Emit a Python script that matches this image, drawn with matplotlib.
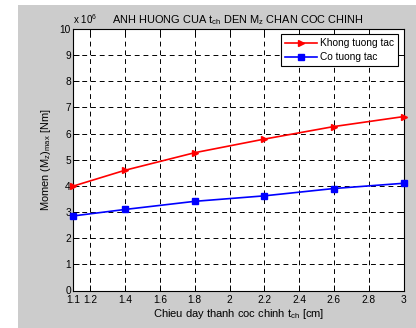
import matplotlib
matplotlib.use("Agg")
import matplotlib.pyplot as plt
from matplotlib.patches import Rectangle

# Data (values in units of 1e6 Nm)
t_ch = [1.1, 1.4, 1.8, 2.2, 2.6, 3.0]
khong_tuong_tac = [3.99, 4.60, 5.27, 5.79, 6.27, 6.65]
co_tuong_tac = [2.85, 3.10, 3.41, 3.62, 3.90, 4.10]
xticks = [1.1, 1.2, 1.4, 1.6, 1.8, 2.0, 2.2, 2.4, 2.6, 2.8, 3.0]
xticklabels = ["1.1", "1.2", "1.4", "1.6", "1.8", "2", "2.2", "2.4", "2.6", "2.8", "3"]
yticks = list(range(0, 11))

plt.rcParams['font.family'] = ['Liberation Sans', 'DejaVu Sans']
plt.rcParams['mathtext.fontset'] = 'custom'
plt.rcParams['mathtext.rm'] = 'Liberation Sans'
plt.rcParams['mathtext.it'] = 'Liberation Sans'
plt.rcParams['mathtext.default'] = 'regular'

W, H = 416, 328
fig = plt.figure(figsize=(W / 100, H / 100), dpi=100)
fig.patch.set_facecolor('white')
fig.patches.append(Rectangle((18 / W, 0), 1 - 18 / W, 1 - 5 / H,
                             transform=fig.transFigure, facecolor='#cccccc',
                             edgecolor='none', zorder=-10))

L, R, T, B = 73, 403.5, 29, 290.5
ax = fig.add_axes([L / W, 1 - B / H, (R - L) / W, (B - T) / H])
ax.set_facecolor('white')

ax.plot(t_ch, khong_tuong_tac, color='red', marker='>', markersize=4.5,
        linewidth=1.2, label='Khong tuong tac', zorder=3, clip_on=False)
ax.plot(t_ch, co_tuong_tac, color='blue', marker='s', markersize=4.5,
        linewidth=1.2, label='Co tuong tac', zorder=3, clip_on=False)

ax.set_xlim(1.1, 3.0)
ax.set_ylim(0, 10)
ax.set_xticks(xticks)
ax.set_xticklabels(xticklabels)
ax.set_yticks(yticks)
ax.tick_params(direction='in', top=True, right=True, labelsize=7.3,
               length=4, width=0.7, pad=1.5, colors='black')
ax.tick_params(axis='x', pad=3.5)
ax.grid(True, color='black', linestyle=(0, (5, 4)), linewidth=0.7)
for s in ax.spines.values():
    s.set_linewidth(0.8)
    s.set_color('black')

ax.set_title('ANH HUONG CUA t$_{ch}$ DEN M$_z$ CHAN COC CHINH', fontsize=7.9, pad=4)
ax.set_xlabel('Chieu day thanh coc chinh t$_{ch}$ [cm]', fontsize=8, labelpad=1)
ax.set_ylabel('Momen (M$_z$)$_{max}$ [Nm]', fontsize=7.9, labelpad=5)
ax.text(0.0, 1.01, 'x 10$^{6}$', transform=ax.transAxes, fontsize=7,
        ha='left', va='bottom')

leg = ax.legend(loc='upper right', fontsize=7.3, frameon=True, fancybox=False,
                borderaxespad=0.5, handlelength=3.2, handletextpad=0.3,
                labelspacing=0.4, borderpad=0.4)
leg.get_frame().set_edgecolor('black')
leg.get_frame().set_linewidth(0.8)
leg.get_frame().set_alpha(1)

fig.savefig('out.png', dpi=100)
